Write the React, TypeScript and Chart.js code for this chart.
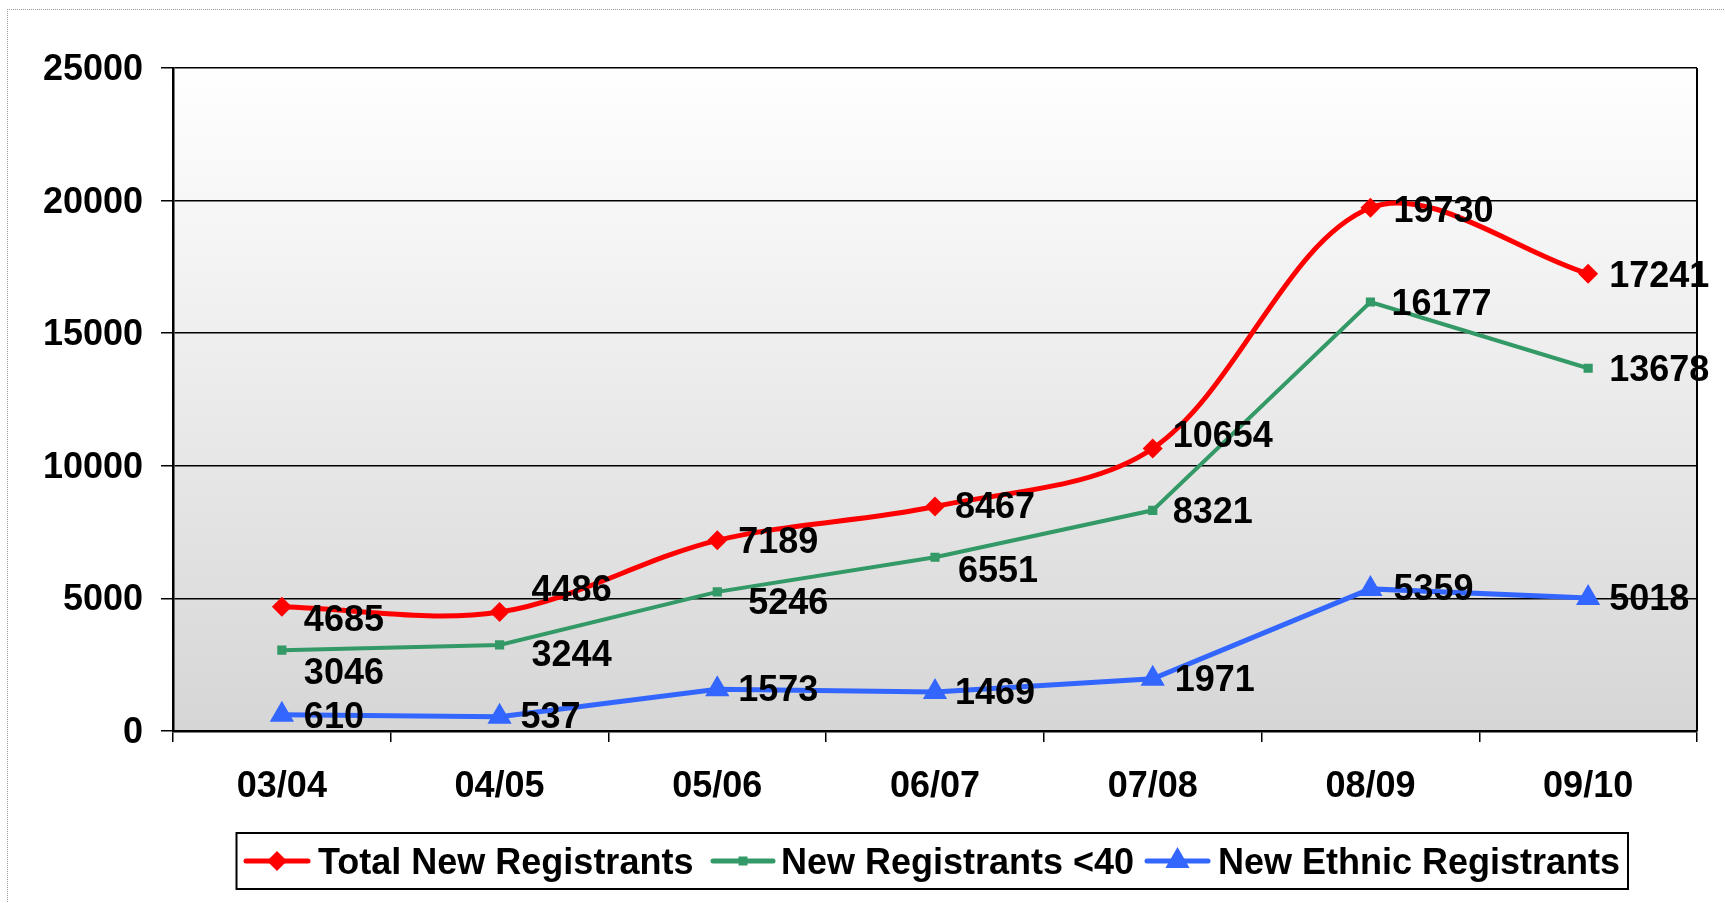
import React, { useEffect, useRef } from "react";
import { Chart, registerables } from "chart.js";

Chart.register(...registerables);

const categories = ["03/04", "04/05", "05/06", "06/07", "07/08", "08/09", "09/10"];
const totalNew = [4685, 4486, 7189, 8467, 10654, 19730, 17241];
const under40 = [3046, 3244, 5246, 6551, 8321, 16177, 13678];
const ethnic = [610, 537, 1573, 1469, 1971, 5359, 5018];
const seriesNames = ["Total New Registrants", "New Registrants <40", "New Ethnic Registrants"];
const yMin = 0;
const yMax = 25000;
const yStep = 5000;

// label placement nudges (px) relative to each point, per series
const labelNudge: number[][][] = [
  [[22, 14], [32, -21], [21, 3], [20, 2], [20, -11], [23, 4], [21, 3]],
  [[22, 24], [32, 11], [31, 12], [23, 15], [20, 3], [21, 3], [21, 3]],
  [[22, 3], [21, 1], [21, 2], [20, 2], [22, 2], [23, 1], [21, 2]],
];

const FONT = '"Liberation Sans", Arial, sans-serif';
const colors = ["#FF0000", "#339966", "#3366FF"];

function drawMarker(ctx: CanvasRenderingContext2D, kind: number, x: number, y: number, color: string) {
  ctx.save();
  ctx.fillStyle = color;
  ctx.beginPath();
  if (kind === 0) {
    const r = 10;
    ctx.moveTo(x - r, y);
    ctx.lineTo(x, y - r);
    ctx.lineTo(x + r, y);
    ctx.lineTo(x, y + r);
    ctx.closePath();
  } else if (kind === 1) {
    const s = 4.5;
    ctx.rect(x - s, y - s, 2 * s, 2 * s);
  } else {
    const r = 14;
    ctx.moveTo(x, y - r);
    ctx.lineTo(x + r * 0.866, y + r * 0.5);
    ctx.lineTo(x - r * 0.866, y + r * 0.5);
    ctx.closePath();
  }
  ctx.fill();
  ctx.restore();
}

const chartPlugin = {
  id: "customDecor",
  beforeDraw(chart: any) {
    const { ctx, chartArea } = chart;
    const g = ctx.createLinearGradient(0, chartArea.top, 0, chartArea.bottom);
    g.addColorStop(0, "#FFFFFF");
    g.addColorStop(1, "#D6D6D6");
    ctx.save();
    ctx.fillStyle = g;
    ctx.fillRect(chartArea.left, chartArea.top, chartArea.right - chartArea.left, chartArea.bottom - chartArea.top);
    ctx.restore();
  },
  beforeDatasetsDraw(chart: any) {
    const { ctx, chartArea } = chart;
    ctx.save();
    ctx.strokeStyle = "#000";
    ctx.lineWidth = 2;
    ctx.beginPath();
    ctx.moveTo(chartArea.right, chartArea.top);
    ctx.lineTo(chartArea.right, chartArea.bottom);
    ctx.stroke();
    ctx.restore();
  },
  afterDatasetsDraw(chart: any) {
    const { ctx } = chart;
    ctx.save();
    ctx.font = `bold 36px ${FONT}`;
    ctx.fillStyle = "#000";
    ctx.textAlign = "left";
    ctx.textBaseline = "middle";
    chart.data.datasets.forEach((ds: any, di: number) => {
      const meta = chart.getDatasetMeta(di);
      meta.data.forEach((pt: any, i: number) => {
        const [dx, dy] = labelNudge[di][i];
        ctx.fillText(String(ds.data[i]), pt.x + dx, pt.y + dy);
      });
    });
    ctx.restore();
  },
  afterDraw(chart: any) {
    const { ctx } = chart;
    ctx.save();
    const bx = 236.5, by = 833, bw = 1391.5, bh = 56;
    ctx.fillStyle = "#fff";
    ctx.fillRect(bx, by, bw, bh);
    ctx.strokeStyle = "#000";
    ctx.lineWidth = 2;
    ctx.strokeRect(bx, by, bw, bh);
    const cy = 861;
    const samples = [
      [246, 308, 318],
      [713, 773, 781],
      [1147, 1208, 1218],
    ];
    ctx.font = `bold 36px ${FONT}`;
    ctx.textBaseline = "middle";
    ctx.textAlign = "left";
    samples.forEach(([x1, x2, tx], i) => {
      ctx.strokeStyle = colors[i];
      ctx.lineWidth = 5;
      ctx.lineCap = "round";
      ctx.beginPath();
      ctx.moveTo(x1, cy);
      ctx.lineTo(x2, cy);
      ctx.stroke();
      drawMarker(ctx, i, (x1 + x2) / 2, cy, colors[i]);
      ctx.fillStyle = "#000";
      ctx.fillText(seriesNames[i], tx, cy + 3);
    });
    ctx.restore();
  },
};

export default function App() {
  const ref = useRef<HTMLCanvasElement | null>(null);
  useEffect(() => {
    if (!ref.current) return;
    const tickFont = { family: FONT, size: 36, weight: "bold" as const };
    const chart = new Chart(ref.current, {
      type: "line",
      data: {
        labels: categories,
        datasets: [
          {
            label: seriesNames[0],
            data: totalNew,
            borderColor: colors[0],
            backgroundColor: colors[0],
            borderWidth: 5,
            tension: 0.33,
            pointStyle: "rectRot",
            pointRadius: 10,
            pointBorderWidth: 0,
            pointBackgroundColor: colors[0],
          },
          {
            label: seriesNames[1],
            data: under40,
            borderColor: colors[1],
            backgroundColor: colors[1],
            borderWidth: 4,
            tension: 0,
            pointStyle: "rect",
            pointRadius: 6.5,
            pointBorderWidth: 0,
            pointBackgroundColor: colors[1],
          },
          {
            label: seriesNames[2],
            data: ethnic,
            borderColor: colors[2],
            backgroundColor: colors[2],
            borderWidth: 5,
            tension: 0,
            pointStyle: "triangle",
            pointRadius: 14,
            pointBorderWidth: 0,
            pointBackgroundColor: colors[2],
          },
        ],
      },
      options: {
        responsive: false,
        animation: false,
        devicePixelRatio: 1,
        layout: { padding: { left: 0, top: 68, right: 28, bottom: 92 } },
        plugins: { legend: { display: false }, tooltip: { enabled: false } },
        scales: {
          x: {
            offset: true,
            grid: {
              offset: true,
              drawOnChartArea: false,
              drawTicks: true,
              tickLength: 11,
              color: "#000",
              lineWidth: 1.5,
            },
            border: { display: true, color: "#000", width: 2.5 },
            ticks: { font: tickFont, color: "#000", padding: 23, maxRotation: 0, autoSkip: false },
            afterFit: (s: any) => {
              s.height = 80;
            },
          },
          y: {
            min: yMin,
            max: yMax,
            grid: { color: "#000", lineWidth: 1.5, tickLength: 12, drawTicks: true },
            border: { display: true, color: "#000", width: 2.5 },
            ticks: {
              stepSize: yStep,
              font: tickFont,
              color: "#000",
              padding: 18,
              labelOffset: 2,
              callback: (v: any) => String(v),
            },
            afterFit: (s: any) => {
              s.width = 173;
            },
          },
        },
      },
      plugins: [chartPlugin],
    });
    return () => chart.destroy();
  }, []);
  return (
    <div
      style={{
        position: "fixed",
        left: 0,
        top: 0,
        width: 1725,
        height: 903,
        background: "#fff",
        overflow: "hidden",
      }}
    >
      <div
        style={{
          position: "absolute",
          left: 7,
          top: 9,
          width: 1800,
          height: 1000,
          borderLeft: "1px dotted #999",
          borderTop: "1px dotted #999",
        }}
      />
      <canvas
        ref={ref}
        width={1725}
        height={903}
        style={{ position: "absolute", left: 0, top: 0, width: 1725, height: 903 }}
      />
    </div>
  );
}
